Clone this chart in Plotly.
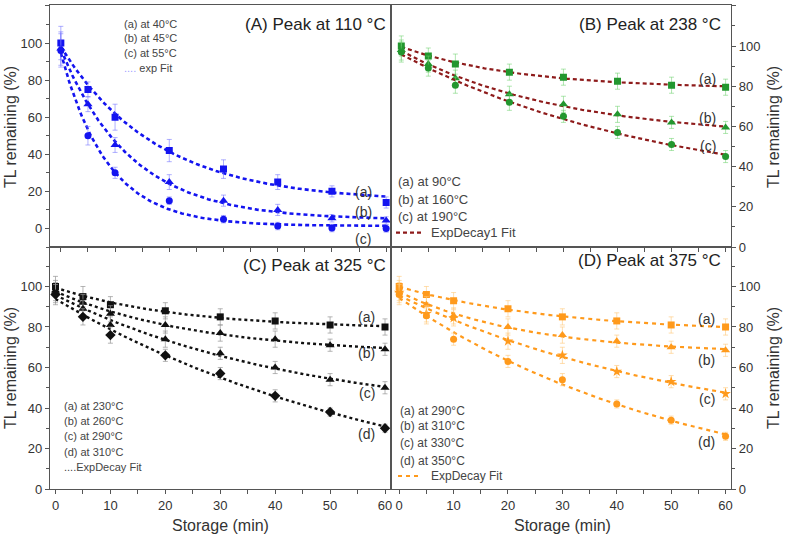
import numpy as np
import plotly.graph_objects as go

# ---------------- data ----------------
storage = [0, 5, 10, 20, 30, 40, 50, 60]

A_a = [100, 75, 60, 42, 32, 25, 20, 14]
A_b = [97, 67, 45, 25, 15, 10, 5.5, 4.3]
A_c = [96, 50, 30, 15, 5, 1.3, 0.2, 0]
A_a_err = [9, 4, 7, 6, 5, 4, 3, 3]
A_b_err = [9, 4, 4, 4, 3, 3, 2, 2]
A_c_err = [9, 5, 3, 2, 2, 2, 2, 2]

B_a = [100, 95, 91, 87, 84.5, 82.5, 80.5, 79.5]
B_b = [98, 91, 84, 76, 71, 66, 62, 59.5]
B_c = [97, 89, 80.5, 72, 65, 57, 51, 45]
B_a_err = [5, 4, 5, 4, 4, 4, 4, 4]
B_b_err = [5, 4, 4, 4, 4, 4, 3, 3]
B_c_err = [5, 4, 4, 4, 3, 3, 3, 3]

C_a = [100, 95, 91, 88, 85, 83, 81, 80]
C_b = [98, 92, 86.5, 81, 77, 74, 71, 69]
C_c = [97, 89, 81, 74, 67, 60, 54, 50]
C_d = [96, 85, 76, 66, 57, 46, 38, 30]
C_a_err = [5, 5, 4, 4, 4, 4, 4, 4]
C_b_err = [5, 4, 4, 4, 4, 4, 3, 3]
C_c_err = [5, 4, 4, 4, 3, 3, 3, 3]
C_d_err = [5, 4, 4, 3, 3, 3, 2, 2]

D_a = [100, 96, 93, 89, 85, 83, 81, 80]
D_b = [98, 91, 85.5, 80, 76, 73, 70, 68.5]
D_c = [97, 86.5, 84.5, 73, 66, 58, 53, 47]
D_d = [96, 85.5, 74, 63, 54, 42, 34, 26]
D_a_err = [5, 4, 4, 4, 4, 4, 4, 4]
D_b_err = [5, 4, 4, 4, 4, 3, 3, 3]
D_c_err = [5, 4, 4, 4, 4, 3, 3, 3]
D_d_err = [5, 4, 3, 3, 3, 2, 2, 2]

legend_A = ["(a) at 40°C", "(b) at 45°C", "(c) at 55°C"]
legend_B = ["(a) at 90°C", "(b) at 160°C", "(c) at 190°C"]
legend_C = ["(a) at 230°C", "(b) at 260°C", "(c) at 290°C", "(d) at 310°C"]
legend_D = ["(a) at 290°C", "(b) at 310°C", "(c) at 330°C", "(d) at 350°C"]

# ---------------- helpers ----------------
W, H = 787, 534
ML, MR, MT, MB = 50, 56, 5, 45
PW, PH = W - ML - MR, H - MT - MB


def X(px):
    return (px - ML) / PW


def Y(py):
    return (MT + PH - py) / PH


def expfit(x, y):
    x = np.asarray(x, float)
    y = np.asarray(y, float)
    best = None
    for t in np.logspace(0, 3.5, 3000):
        e = np.exp(-x / t)
        M = np.vstack([np.ones_like(x), e]).T
        coef = np.linalg.lstsq(M, y, rcond=None)[0]
        r = np.sum((M @ coef - y) ** 2)
        if best is None or r < best[0]:
            best = (r, t, coef)
    _, t, coef = best
    xf = np.linspace(0, 60, 200)
    return xf, coef[0] + coef[1] * np.exp(-xf / t)


fig = go.Figure()


def add_series(xa, ya, y, err, color, ecolor, symbol, size, fitcolor, dash, fw):
    xf, yf = expfit(storage, y)
    fig.add_trace(go.Scatter(x=xf, y=yf, mode="lines", xaxis=xa, yaxis=ya,
                             line=dict(color=fitcolor, width=fw, dash=dash),
                             showlegend=False, hoverinfo="skip"))
    fig.add_trace(go.Scatter(x=storage, y=y, mode="markers", xaxis=xa, yaxis=ya,
                             marker=dict(color=color, symbol=symbol, size=size),
                             error_y=dict(type="data", array=err, color=ecolor,
                                          thickness=1, width=2.5),
                             showlegend=False))


blue, blue_e = "#1414f0", "rgba(110,110,255,0.55)"
green, green_e = "#23972f", "rgba(110,210,110,0.55)"
dred = "#8e1b1b"
black, black_e = "#111111", "rgba(150,150,150,0.7)"
orange, orange_e = "#ff9a1c", "rgba(255,200,120,0.6)"

add_series("x", "y", A_a, A_a_err, blue, blue_e, "square", 7, blue, "4px,3px", 2.6)
add_series("x", "y", A_b, A_b_err, blue, blue_e, "triangle-up", 8, blue, "4px,3px", 2.6)
add_series("x", "y", A_c, A_c_err, blue, blue_e, "circle", 7, blue, "4px,3px", 2.6)

add_series("x2", "y2", B_a, B_a_err, green, green_e, "square", 7, dred, "4px,3px", 2.2)
add_series("x2", "y2", B_b, B_b_err, green, green_e, "triangle-up", 8, dred, "4px,3px", 2.2)
add_series("x2", "y2", B_c, B_c_err, green, green_e, "circle", 7, dred, "4px,3px", 2.2)

add_series("x3", "y3", C_a, C_a_err, black, black_e, "square", 7, black, "3px,3px", 2.4)
add_series("x3", "y3", C_b, C_b_err, black, black_e, "triangle-up", 8, black, "3px,3px", 2.4)
add_series("x3", "y3", C_c, C_c_err, black, black_e, "triangle-up", 8, black, "3px,3px", 2.4)
add_series("x3", "y3", C_d, C_d_err, black, black_e, "diamond", 8, black, "3px,3px", 2.4)

add_series("x4", "y4", D_a, D_a_err, orange, orange_e, "square", 7, orange, "4px,4px", 2.2)
add_series("x4", "y4", D_b, D_b_err, orange, orange_e, "triangle-up", 8, orange, "4px,4px", 2.2)
add_series("x4", "y4", D_c, D_c_err, orange, orange_e, "star", 8, orange, "4px,4px", 2.2)
add_series("x4", "y4", D_d, D_d_err, orange, orange_e, "circle", 7, orange, "4px,4px", 2.2)

axcol = "#555555"
tickfont = dict(family="Arial, Liberation Sans, sans-serif", size=13, color="#333")


def xax(domain, anchor, rng, labels):
    return dict(domain=domain, anchor=anchor, range=rng, showline=True, linecolor=axcol,
                linewidth=1.3, mirror=True, ticks="outside", ticklen=4, tickcolor=axcol,
                tickvals=[0, 10, 20, 30, 40, 50, 60], showticklabels=labels,
                tickfont=tickfont, showgrid=False, zeroline=False,
                minor=dict(tickvals=[5, 15, 25, 35, 45, 55], ticks="outside", ticklen=4,
                           tickcolor=axcol))


def yax(domain, anchor, rng, side, tv):
    return dict(domain=domain, anchor=anchor, range=rng, side=side, showline=True,
                linecolor=axcol, linewidth=1.3, mirror=True, ticks="outside", ticklen=4,
                tickcolor=axcol, tickvals=tv, tickfont=tickfont, showgrid=False,
                zeroline=False,
                minor=dict(dtick=10, tick0=0, ticks="outside", ticklen=3, tickcolor=axcol))


fig.update_layout(
    width=W, height=H, margin=dict(l=ML, r=MR, t=MT, b=MB),
    paper_bgcolor="white", plot_bgcolor="white", showlegend=False,
    font=dict(family="Arial, Liberation Sans, sans-serif", color="#333"),
    xaxis=xax([0, 0.5], "y", [-2, 60.8], False),
    yaxis=yax([0.5, 1], "x", [-10, 120.5], "left", [0, 20, 40, 60, 80, 100, 120]),
    xaxis2=xax([0.5, 1], "y2", [-2, 61], False),
    yaxis2=yax([0.5, 1], "x2", [0, 120.4], "right", [0, 20, 40, 60, 80, 100, 120]),
    xaxis3=xax([0, 0.5], "y3", [-1, 61], True),
    yaxis3=yax([0, 0.5], "x3", [0, 119.5], "left", [0, 20, 40, 60, 80, 100]),
    xaxis4=xax([0.5, 1], "y4", [-1.6, 61], True),
    yaxis4=yax([0, 0.5], "x4", [0, 119.5], "right", [0, 20, 40, 60, 80, 100]),
)

ann = []


def txt(x, y, text, size, xanchor="left", color="#444", angle=0, xref="paper", yref="paper"):
    ann.append(dict(x=x, y=y, xref=xref, yref=yref, text=text, showarrow=False,
                    xanchor=xanchor, yanchor="middle", textangle=angle,
                    font=dict(size=size, color=color)))


# panel titles
txt(X(388), Y(25), "(A) Peak at 110 °C", 17, "right", "#222")
txt(X(723), Y(25), "(B) Peak at 238 °C", 17, "right", "#222")
txt(X(388), Y(266), "(C) Peak at 325 °C", 17, "right", "#222")
txt(X(723), Y(260), "(D) Peak at 375 °C", 17, "right", "#222")

# axis titles
for yc in (127, 368):
    txt(X(10), Y(yc), "TL remaining (%)", 16, "center", "#333", -90)
    txt(X(773), Y(yc), "TL remaining (%)", 16, "center", "#333", -90)
txt(X(220), Y(525), "Storage (min)", 16, "center", "#333")
txt(X(562), Y(525), "Storage (min)", 16, "center", "#333")

# legends
for yy, t in zip([24, 38.3, 53.3], legend_A):
    txt(X(122), Y(yy), t, 11)
txt(X(122), Y(68.3), "<span style='color:#a0a0ff'>....</span> exp Fit", 11)

for yy, t in zip([181.7, 199.3, 216.7], legend_B):
    txt(X(396), Y(yy), t, 13)
txt(X(429), Y(232.7), "ExpDecay1 Fit", 13)

for yy, t in zip([405.7, 421, 436.3, 452.3], legend_C):
    txt(X(62), Y(yy), t, 11)
txt(X(62), Y(467.3), "....ExpDecay Fit", 11)

for yy, t in zip([410.7, 425.7, 443.3, 461], legend_D):
    txt(X(398), Y(yy), t, 12)
txt(X(429), Y(476), "ExpDecay Fit", 12)

# curve labels
for (xr, yr, xv, yvs, labs) in [
    ("x", "y", 55.8, [19.5, 8.7, -5.7], ["(a)", "(b)", "(c)"]),
    ("x2", "y2", 56.7, [83.7, 64.3, 50.4], ["(a)", "(b)", "(c)"]),
    ("x3", "y3", 56.7, [85, 67, 47.3, 27.4], ["(a)", "(b)", "(c)", "(d)"]),
    ("x4", "y4", 56.5, [84, 63.6, 44.3, 23], ["(a)", "(b)", "(c)", "(d)"]),
]:
    for yv, lab in zip(yvs, labs):
        txt(xv, yv, lab, 14, "center", "#333", 0, xr, yr)

fig.update_layout(annotations=ann)

fig.update_layout(shapes=[
    dict(type="line", xref="paper", yref="paper", x0=X(396), x1=X(421), y0=Y(232.7),
         y1=Y(232.7), line=dict(color=dred, width=2.2, dash="4px,3px")),
    dict(type="line", xref="paper", yref="paper", x0=X(398), x1=X(422), y0=Y(476),
         y1=Y(476), line=dict(color=orange, width=2.2, dash="4px,4px")),
])

fig.write_html("out.html")
